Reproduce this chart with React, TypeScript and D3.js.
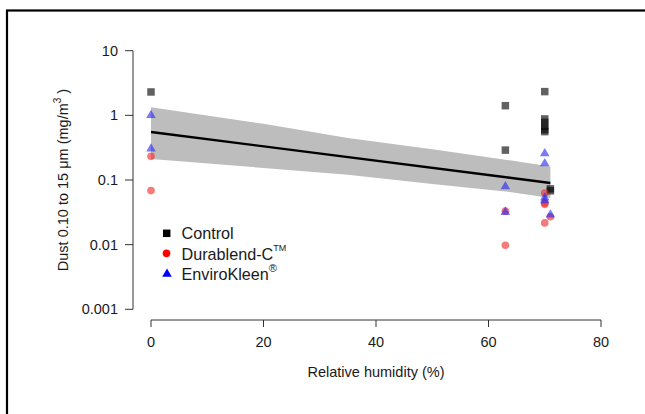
import React from "react";
import * as d3 from "d3";

// ---- data ----
const controlX = [0, 63, 63, 70, 70, 70, 70, 70, 70, 71, 71];
const controlY = [2.3, 1.41, 0.29, 2.33, 0.88, 0.78, 0.68, 0.6, 0.56, 0.073, 0.068];

const durablendX = [0, 0, 63, 63, 70, 70, 70, 70, 71];
const durablendY = [0.232, 0.0686, 0.033, 0.0098, 0.063, 0.044, 0.042, 0.0217, 0.027];

const envirokleenX = [0, 0, 63, 63, 70, 70, 70, 70, 71];
const envirokleenY = [1.04, 0.316, 0.082, 0.033, 0.266, 0.186, 0.055, 0.05, 0.03];

const fitX = [0, 71];
const fitY = [0.553, 0.09];

const bandX = [0, 20, 35, 50, 63, 71];
const bandUpper = [1.34, 0.74, 0.447, 0.3, 0.206, 0.162];
const bandLower = [0.211, 0.154, 0.121, 0.087, 0.0666, 0.0526];

const xTicks = [0, 20, 40, 60, 80];
const yTicks = [10, 1, 0.1, 0.01, 0.001];
const yTickLabels = ["10", "1", "0.1", "0.01", "0.001"];

const FONT = "'Liberation Sans', Arial, sans-serif";

export default function App() {
  const x = d3.scaleLinear().domain([0, 80]).range([151, 601]);
  const y = d3.scaleLog().domain([0.001, 10]).range([309.3, 50.7]);

  const area = d3
    .area<number>()
    .x((_, i) => x(bandX[i]))
    .y0((_, i) => y(bandLower[i]))
    .y1((_, i) => y(bandUpper[i]));
  const line = d3
    .line<number>()
    .x((_, i) => x(fitX[i]))
    .y((d) => y(d));

  const sq = d3.symbol().type(d3.symbolSquare).size(56)()!;
  const circ = d3.symbol().type(d3.symbolCircle).size(46)()!;
  const tri = d3.symbol().type(d3.symbolTriangle).size(40)()!;

  const axisColor = "#333";
  const textColor = "#1a1a1a";

  return (
    <svg
      width={645}
      height={414}
      style={{ position: "absolute", left: 0, top: 0, background: "#fff" }}
    >
      <rect x={0} y={0} width={645} height={414} fill="#fff" />
      {/* frame */}
      <rect x={7} y={10.5} width={700} height={500} fill="none" stroke="#000" strokeWidth={2.2} />

      {/* band and fit */}
      <path d={area(bandX) || ""} fill="#bdbdbd" stroke="none" />
      <path d={line(fitY) || ""} fill="none" stroke="#000" strokeWidth={2.4} />

      {/* points */}
      {controlY.map((v, i) => (
        <path key={"c" + i} d={sq} transform={`translate(${x(controlX[i])},${y(v)})`} fill="rgba(0,0,0,0.62)" />
      ))}
      {durablendY.map((v, i) => (
        <path key={"d" + i} d={circ} transform={`translate(${x(durablendX[i])},${y(v)})`} fill="rgba(240,40,40,0.62)" />
      ))}
      {envirokleenY.map((v, i) => (
        <path key={"e" + i} d={tri} transform={`translate(${x(envirokleenX[i])},${y(v) + 1})`} fill="rgba(40,40,240,0.62)" />
      ))}

      {/* y axis */}
      <line x1={133} x2={133} y1={y(10)} y2={y(0.001)} stroke={axisColor} strokeWidth={1} />
      {yTicks.map((t, i) => (
        <g key={"yt" + i}>
          <line x1={125} x2={133} y1={y(t)} y2={y(t)} stroke={axisColor} strokeWidth={1} />
          <text x={118} y={y(t) + 5} textAnchor="end" fontFamily={FONT} fontSize={14.5} fill={textColor}>
            {yTickLabels[i]}
          </text>
        </g>
      ))}

      {/* x axis */}
      <line x1={x(0)} x2={x(80)} y1={320} y2={320} stroke={axisColor} strokeWidth={1} />
      {xTicks.map((t) => (
        <g key={"xt" + t}>
          <line x1={x(t)} x2={x(t)} y1={320} y2={327} stroke={axisColor} strokeWidth={1} />
          <text x={x(t)} y={347} textAnchor="middle" fontFamily={FONT} fontSize={14.5} fill={textColor}>
            {t}
          </text>
        </g>
      ))}

      {/* axis titles */}
      <text x={376} y={377} textAnchor="middle" fontFamily={FONT} fontSize={14.5} fill={textColor}>
        Relative humidity (%)
      </text>
      <text
        transform="translate(68,180) rotate(-90)"
        textAnchor="middle"
        fontFamily={FONT}
        fontSize={14.5}
        fill={textColor}
      >
        Dust 0.10 to 15 μm (mg/m
        <tspan fontSize={10} dy={-7}>3</tspan>
        <tspan dy={7}> )</tspan>
      </text>

      {/* legend */}
      <path d={sq} transform="translate(166.7,233.3)" fill="#000" />
      <path d={circ} transform="translate(166.5,253.3)" fill="#f00" />
      <path d={tri} transform="translate(167,274)" fill="#00f" />
      <text x={181.5} y={239.3} fontFamily={FONT} fontSize={16.2} fill={textColor}>
        Control
      </text>
      <text x={181.5} y={259.8} fontFamily={FONT} fontSize={16.2} fill={textColor}>
        Durablend-C
        <tspan fontSize={9} dy={-9}>TM</tspan>
      </text>
      <text x={181.5} y={280.3} fontFamily={FONT} fontSize={16.2} fill={textColor}>
        EnviroKleen
        <tspan fontSize={11} dy={-8}>®</tspan>
      </text>
    </svg>
  );
}
